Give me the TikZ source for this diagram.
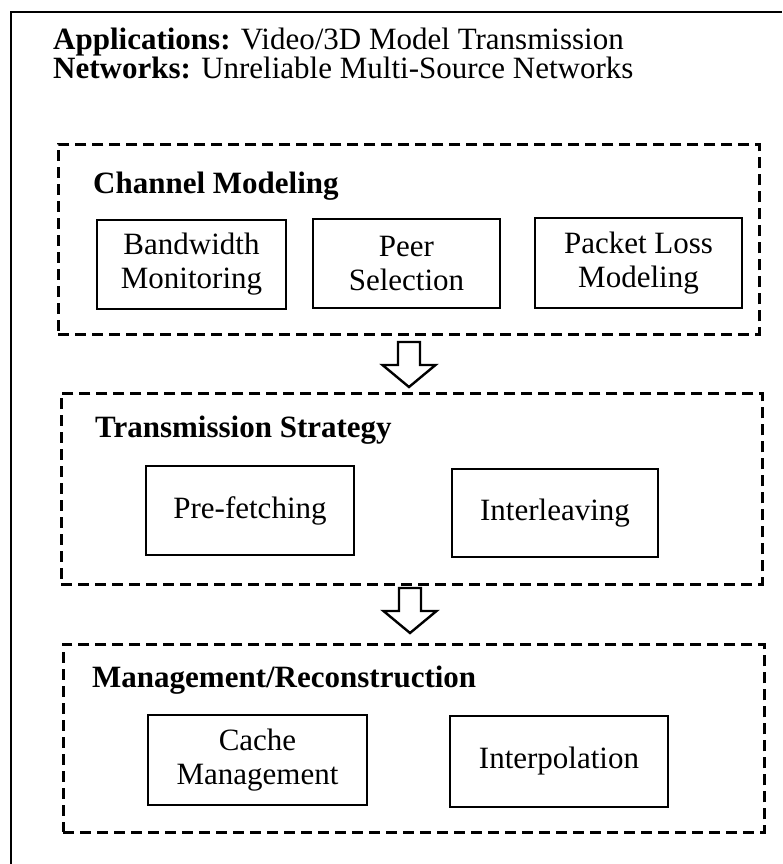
\documentclass[tikz,border=0pt]{standalone}
\usepackage{fontspec}
\setmainfont{Liberation Serif}
\begin{document}
\begin{tikzpicture}[x=1pt,y=-1pt,
  txt/.style={font=\fontsize{31}{34}\selectfont, inner sep=0pt},
  head/.style={txt, anchor=base west},
  grouptitle/.style={txt, anchor=base west, font=\fontsize{31}{34}\selectfont\bfseries},
  groupbox/.style={draw, line width=2.6pt, dash pattern=on 11pt off 6pt,
    minimum width=701pt, minimum height=190pt, anchor=north west, inner sep=0pt},
  stepbox/.style={draw, line width=2.6pt, txt, align=center},
  blockarr/.style={draw, line width=2.4pt, line join=miter, fill=white}
]
\useasboundingbox (0,0) rectangle (782,864);

% outer frame (left and top edges)
\draw[line width=2.8pt] (11,864) -- (11,12) -- (782,12);

% header lines
\node[head] (app) at (53,50) {\textbf{Applications:} Video/3D Model Transmission};
\node[head] (net) at (53,79) {\textbf{Networks:} Unreliable Multi-Source Networks};

% stage 1: channel modeling
\node[groupbox] (g1) at (57,143) {};
\node[grouptitle] (t1) at (93,193) {Channel Modeling};
\node[stepbox, minimum width=189pt, minimum height=89pt] (bw) at (191.5,264.5) {Bandwidth\\Monitoring};
\node[stepbox, minimum width=187pt, minimum height=89pt] (peer) at (406.5,263.5) {Peer\\Selection};
\node[stepbox, minimum width=207pt, minimum height=90pt] (loss) at (638.5,263) {Packet Loss\\Modeling};

% stage 2: transmission strategy
\node[groupbox, minimum height=191pt] (g2) at (60,392) {};
\node[grouptitle] (t2) at (95,437) {Transmission Strategy};
\node[stepbox, minimum width=208pt, minimum height=89pt] (pre) at (250,510.5) {Pre-fetching};
\node[stepbox, minimum width=206pt, minimum height=88pt] (inter) at (555,513) {Interleaving};

% stage 3: management / reconstruction
\node[groupbox, minimum height=188pt] (g3) at (62,643) {};
\node[grouptitle] (t3) at (92,687) {Management/Reconstruction};
\node[stepbox, minimum width=219pt, minimum height=90pt] (cache) at (257.5,760) {Cache\\Management};
\node[stepbox, minimum width=218pt, minimum height=91pt] (interp) at (559,761.5) {Interpolation};

% hollow block arrows between the stages
\coordinate (a1) at (409,342);
\coordinate (a2) at (410,588);
\foreach \a in {a1,a2}
  \draw[blockarr, shift={(\a)}] (-11,0) -- (11,0) -- (11,23) -- (26.5,23)
    -- (0,45) -- (-26.5,23) -- (-11,23) -- cycle;
\end{tikzpicture}
\end{document}
